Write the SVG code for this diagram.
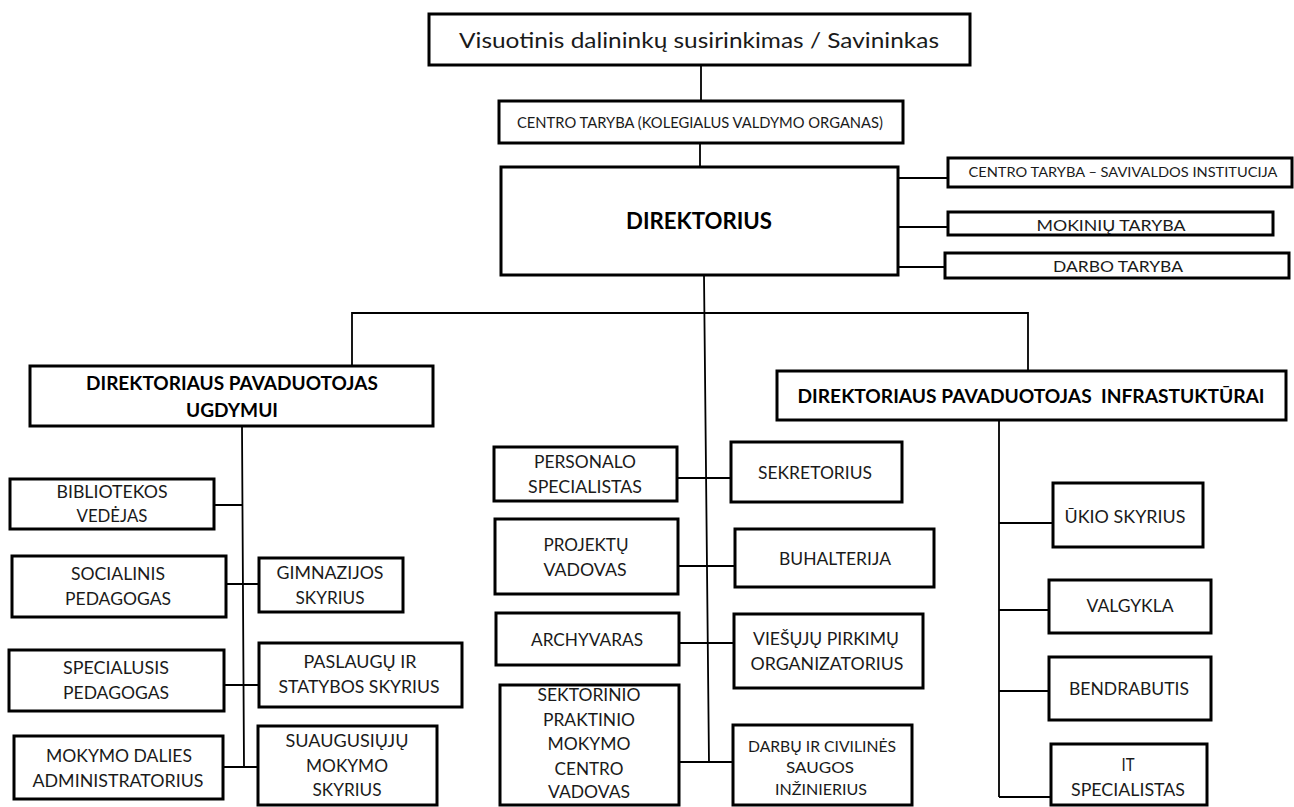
<svg xmlns="http://www.w3.org/2000/svg" width="1294" height="807" viewBox="0 0 1294 807">
<style>
.box{fill:#fff;stroke:#000;stroke-width:3}
.ln{fill:none;stroke:#000;stroke-width:1.8}
.t{font-family:Lato,"Open Sans","Liberation Sans",sans-serif;font-size:18px;fill:#1a1a1a;text-anchor:middle}
.b{font-family:Lato,"Open Sans","Liberation Sans",sans-serif;font-size:18px;font-weight:bold;fill:#000;text-anchor:middle}
</style>
<rect width="1294" height="807" fill="#fff"/>
<g id="connectors">
<path class="ln" d="M701 65V101M700 143V167M898 178H948M898 227H948M895 267H945"/>
<path class="ln" d="M704 275L709 763M352 366V313H1028V371"/>
<path class="ln" d="M242 426L244 767M214 505H242M226 584H259M224 685H259M223 767H258"/>
<path class="ln" d="M677 478H731M678 566H735M679 643H734M679 762H733"/>
<path class="ln" d="M999 420V797M999 523H1053M999 610H1049M999 691H1049M999 797H1051"/>
</g>
<g id="n-top"><rect class="box" x="429" y="14" width="541" height="51"/><text class="t" x="699" y="48" style="font-size:22px" textLength="480" lengthAdjust="spacingAndGlyphs">Visuotinis dalininkų susirinkimas / Savininkas</text></g>
<g id="n-centro"><rect class="box" x="499" y="101" width="404" height="42"/><text class="t" x="700" y="128" style="font-size:16px" textLength="366" lengthAdjust="spacingAndGlyphs">CENTRO TARYBA (KOLEGIALUS VALDYMO ORGANAS)</text></g>
<g id="n-dir"><rect class="box" x="501" y="167" width="397" height="108"/><text class="b" x="699" y="229" style="font-size:22px" textLength="146" lengthAdjust="spacingAndGlyphs">DIREKTORIUS</text></g>
<g id="n-r1"><rect class="box" x="948" y="158" width="344" height="29"/><text class="t" x="1123" y="177" style="font-size:12.5px" textLength="309" lengthAdjust="spacingAndGlyphs">CENTRO TARYBA – SAVIVALDOS INSTITUCIJA</text></g>
<g id="n-r2"><rect class="box" x="948" y="212" width="325" height="23"/><text class="t" x="1111" y="231" style="font-size:16px" textLength="149" lengthAdjust="spacingAndGlyphs">MOKINIŲ TARYBA</text></g>
<g id="n-r3"><rect class="box" x="945" y="253" width="344" height="25"/><text class="t" x="1118" y="272" style="font-size:16px" textLength="130" lengthAdjust="spacingAndGlyphs">DARBO TARYBA</text></g>
<g id="n-ugd"><rect class="box" x="30" y="366" width="403" height="60"/><text class="b" x="232" y="390" textLength="292" lengthAdjust="spacingAndGlyphs">DIREKTORIAUS PAVADUOTOJAS</text><text class="b" x="232" y="417" textLength="92" lengthAdjust="spacingAndGlyphs">UGDYMUI</text></g>
<g id="n-infra"><rect class="box" x="777" y="371" width="509" height="49"/><text class="b" x="1031" y="403" textLength="467" lengthAdjust="spacingAndGlyphs" xml:space="preserve">DIREKTORIAUS PAVADUOTOJAS  INFRASTUKTŪRAI</text></g>
<g id="n-bibl"><rect class="box" x="10" y="479" width="204" height="50"/><text class="t" x="112" y="498" textLength="111" lengthAdjust="spacingAndGlyphs">BIBLIOTEKOS</text><text class="t" x="112" y="522" textLength="71" lengthAdjust="spacingAndGlyphs">VEDĖJAS</text></g>
<g id="n-soc"><rect class="box" x="12" y="556" width="214" height="61"/><text class="t" x="118" y="580" textLength="94" lengthAdjust="spacingAndGlyphs">SOCIALINIS</text><text class="t" x="118" y="605" textLength="106" lengthAdjust="spacingAndGlyphs">PEDAGOGAS</text></g>
<g id="n-gimn"><rect class="box" x="259" y="558" width="144" height="54"/><text class="t" x="330" y="579" textLength="107" lengthAdjust="spacingAndGlyphs">GIMNAZIJOS</text><text class="t" x="330" y="604" textLength="69" lengthAdjust="spacingAndGlyphs">SKYRIUS</text></g>
<g id="n-spec"><rect class="box" x="9" y="650" width="215" height="61"/><text class="t" x="116" y="674" textLength="106" lengthAdjust="spacingAndGlyphs">SPECIALUSIS</text><text class="t" x="116" y="699" textLength="106" lengthAdjust="spacingAndGlyphs">PEDAGOGAS</text></g>
<g id="n-pasl"><rect class="box" x="259" y="643" width="203" height="64"/><text class="t" x="360" y="668" textLength="113" lengthAdjust="spacingAndGlyphs">PASLAUGŲ IR</text><text class="t" x="359" y="693" textLength="161" lengthAdjust="spacingAndGlyphs">STATYBOS SKYRIUS</text></g>
<g id="n-moka"><rect class="box" x="14" y="736" width="209" height="63"/><text class="t" x="119" y="762" textLength="146" lengthAdjust="spacingAndGlyphs">MOKYMO DALIES</text><text class="t" x="118" y="787" textLength="171" lengthAdjust="spacingAndGlyphs">ADMINISTRATORIUS</text></g>
<g id="n-suaug"><rect class="box" x="258" y="726" width="179" height="79"/><text class="t" x="347" y="747" textLength="123" lengthAdjust="spacingAndGlyphs">SUAUGUSIŲJŲ</text><text class="t" x="347" y="772" textLength="82" lengthAdjust="spacingAndGlyphs">MOKYMO</text><text class="t" x="347" y="796" textLength="69" lengthAdjust="spacingAndGlyphs">SKYRIUS</text></g>
<g id="n-pers"><rect class="box" x="494" y="447" width="183" height="54"/><text class="t" x="585" y="468" textLength="102" lengthAdjust="spacingAndGlyphs">PERSONALO</text><text class="t" x="585" y="493" textLength="114" lengthAdjust="spacingAndGlyphs">SPECIALISTAS</text></g>
<g id="n-sekr"><rect class="box" x="731" y="442" width="171" height="60"/><text class="t" x="815" y="479" textLength="114" lengthAdjust="spacingAndGlyphs">SEKRETORIUS</text></g>
<g id="n-proj"><rect class="box" x="495" y="519" width="183" height="75"/><text class="t" x="586" y="551" textLength="85" lengthAdjust="spacingAndGlyphs">PROJEKTŲ</text><text class="t" x="585" y="576" textLength="83" lengthAdjust="spacingAndGlyphs">VADOVAS</text></g>
<g id="n-buh"><rect class="box" x="735" y="529" width="199" height="58"/><text class="t" x="835" y="565" textLength="112" lengthAdjust="spacingAndGlyphs">BUHALTERIJA</text></g>
<g id="n-arch"><rect class="box" x="496" y="613" width="183" height="52"/><text class="t" x="587" y="646" textLength="112" lengthAdjust="spacingAndGlyphs">ARCHYVARAS</text></g>
<g id="n-vies"><rect class="box" x="734" y="614" width="189" height="74"/><text class="t" x="826" y="645" textLength="146" lengthAdjust="spacingAndGlyphs">VIEŠŲJŲ PIRKIMŲ</text><text class="t" x="827" y="670" textLength="153" lengthAdjust="spacingAndGlyphs">ORGANIZATORIUS</text></g>
<g id="n-sekt"><rect class="box" x="500" y="685" width="179" height="120"/><text class="t" x="589" y="701" textLength="103" lengthAdjust="spacingAndGlyphs">SEKTORINIO</text><text class="t" x="589" y="726" textLength="92" lengthAdjust="spacingAndGlyphs">PRAKTINIO</text><text class="t" x="589" y="750" textLength="83" lengthAdjust="spacingAndGlyphs">MOKYMO</text><text class="t" x="589" y="775" textLength="69" lengthAdjust="spacingAndGlyphs">CENTRO</text><text class="t" x="589" y="798" textLength="82" lengthAdjust="spacingAndGlyphs">VADOVAS</text></g>
<g id="n-darb"><rect class="box" x="733" y="725" width="179" height="80"/><text class="t" x="822" y="752" style="font-size:14.5px" textLength="148" lengthAdjust="spacingAndGlyphs">DARBŲ IR CIVILINĖS</text><text class="t" x="820" y="773" style="font-size:14.5px" textLength="68" lengthAdjust="spacingAndGlyphs">SAUGOS</text><text class="t" x="821" y="795" style="font-size:14.5px" textLength="92" lengthAdjust="spacingAndGlyphs">INŽINIERIUS</text></g>
<g id="n-ukio"><rect class="box" x="1053" y="483" width="150" height="64"/><text class="t" x="1125" y="523" textLength="121" lengthAdjust="spacingAndGlyphs">ŪKIO SKYRIUS</text></g>
<g id="n-valg"><rect class="box" x="1049" y="580" width="162" height="53"/><text class="t" x="1130" y="612" textLength="87" lengthAdjust="spacingAndGlyphs">VALGYKLA</text></g>
<g id="n-bend"><rect class="box" x="1049" y="657" width="162" height="63"/><text class="t" x="1129" y="695" textLength="120" lengthAdjust="spacingAndGlyphs">BENDRABUTIS</text></g>
<g id="n-it"><rect class="box" x="1051" y="744" width="156" height="61"/><text class="t" x="1128" y="771" textLength="13" lengthAdjust="spacingAndGlyphs">IT</text><text class="t" x="1128" y="796" textLength="114" lengthAdjust="spacingAndGlyphs">SPECIALISTAS</text></g>
</svg>
